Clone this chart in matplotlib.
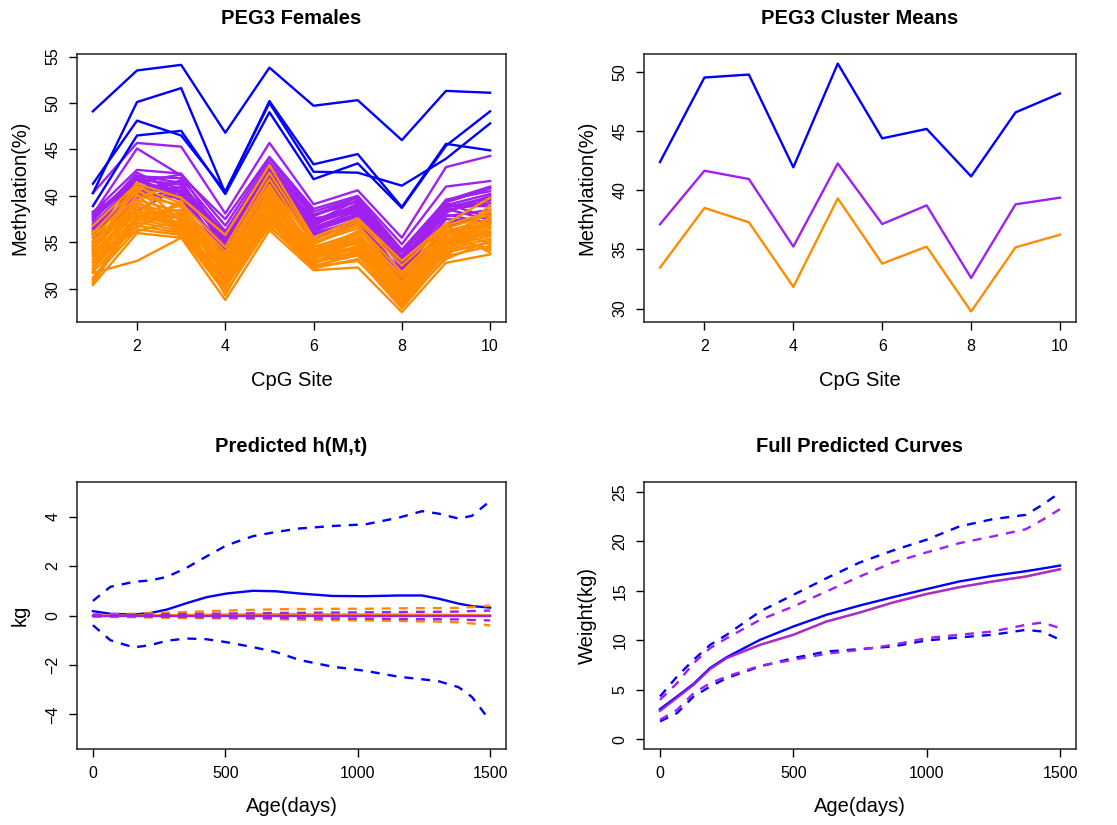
import matplotlib
matplotlib.use("Agg")
import matplotlib.pyplot as plt
import numpy as np

plt.rcParams['font.family'] = ['Liberation Sans', 'DejaVu Sans']

BLUE = "#0000FF"
PURPLE = "#A020F0"
ORANGE = "#FF8C00"

# ---------------- CpG methylation profiles (females) ----------------
cpg_sites = list(range(1, 11))

blue_profiles = [
    [49.1, 53.5, 54.1, 46.8, 53.8, 49.7, 50.3, 46.0, 51.3, 51.1],
    [40.3, 50.1, 51.6, 40.3, 50.2, 43.4, 44.5, 38.8, 45.6, 44.9],
    [41.3, 48.1, 46.5, 40.5, 50.0, 42.6, 42.5, 41.1, 44.0, 47.8],
    [38.9, 46.5, 47.0, 40.2, 49.0, 41.8, 43.5, 38.7, 45.4, 49.1],
]

purple_profiles = [
    [40.3, 45.7, 45.3, 38.1, 45.7, 39.1, 40.6, 35.5, 43.1, 44.3],
    [38.0, 45.1, 42.2, 37.5, 44.2, 38.6, 40.0, 34.8, 41.0, 41.6],
    [38.2, 42.8, 42.4, 36.8, 44.0, 38.3, 39.8, 34.2, 39.5, 41.0],
    [37.8, 42.1, 41.9, 36.2, 43.6, 38.0, 39.5, 33.9, 39.3, 40.8],
    [37.5, 41.8, 41.2, 35.9, 43.2, 37.8, 39.9, 33.5, 39.6, 40.5],
    [36.4, 42.0, 40.8, 35.4, 42.8, 37.4, 39.0, 33.1, 39.0, 40.2],
    [37.0, 41.5, 42.3, 35.0, 42.5, 37.0, 38.6, 32.8, 38.7, 39.9],
    [38.3, 41.2, 40.5, 35.6, 41.9, 37.6, 38.2, 32.4, 38.4, 39.5],
    [36.0, 40.8, 41.5, 34.6, 42.0, 36.8, 39.2, 32.0, 38.2, 40.0],
    [37.3, 42.5, 40.2, 35.2, 41.5, 36.5, 38.0, 32.6, 38.9, 38.9],
    [35.5, 41.0, 40.0, 34.2, 41.0, 36.2, 37.8, 31.5, 37.8, 38.5],
    [34.2, 40.2, 39.8, 33.8, 40.6, 35.8, 37.5, 31.0, 37.0, 38.0],
    [36.8, 38.4, 41.0, 34.8, 42.2, 37.2, 38.8, 32.2, 39.2, 37.6],
    [35.0, 41.8, 39.5, 34.5, 41.2, 36.0, 37.2, 31.8, 37.5, 37.2],
    [36.2, 40.5, 40.9, 35.8, 43.0, 37.9, 39.4, 33.4, 38.0, 37.0],
    [37.6, 41.6, 40.3, 35.1, 41.8, 36.6, 38.4, 32.9, 38.5, 39.2],
    [34.6, 39.8, 40.6, 33.5, 40.9, 35.5, 37.0, 30.6, 36.6, 38.1],
    [38.0, 41.9, 39.9, 36.0, 42.4, 37.3, 38.5, 33.0, 39.4, 40.9],
    [36.6, 40.0, 41.7, 34.0, 41.3, 36.4, 38.1, 31.3, 38.6, 37.4],
    [35.8, 42.2, 41.4, 35.3, 42.6, 37.1, 39.6, 32.5, 38.8, 39.7],
]

orange_profiles = [
    [31.7, 33.0, 35.5, 31.0, 37.5, 33.0, 34.0, 29.0, 34.0, 35.0],
    [36.8, 41.3, 39.8, 35.8, 43.3, 35.5, 37.6, 33.0, 37.0, 39.8],
    [36.0, 41.0, 39.2, 34.5, 42.5, 35.2, 37.3, 32.5, 36.8, 38.3],
    [35.5, 40.5, 38.8, 34.0, 41.8, 34.8, 36.8, 31.8, 36.5, 38.0],
    [35.0, 40.0, 39.0, 33.5, 41.0, 35.0, 36.5, 31.2, 36.2, 37.5],
    [34.6, 39.6, 38.2, 33.0, 40.5, 34.5, 36.0, 30.8, 36.0, 37.2],
    [34.2, 39.2, 37.8, 32.6, 40.0, 34.2, 35.8, 30.5, 35.8, 37.0],
    [33.8, 38.8, 37.5, 32.2, 39.6, 34.0, 35.5, 30.2, 35.5, 36.8],
    [33.5, 38.5, 37.0, 32.0, 39.2, 33.8, 35.2, 29.9, 35.3, 36.5],
    [33.2, 38.2, 37.6, 31.6, 38.8, 33.5, 35.0, 29.6, 35.0, 36.2],
    [32.8, 37.8, 36.8, 31.3, 38.5, 33.3, 34.6, 29.3, 34.8, 36.0],
    [32.5, 37.5, 36.5, 31.0, 38.0, 33.0, 34.4, 29.0, 34.5, 35.7],
    [32.2, 37.2, 36.2, 30.6, 37.6, 32.8, 34.0, 28.7, 34.2, 35.4],
    [31.8, 36.8, 36.0, 30.2, 37.2, 32.5, 33.6, 28.3, 33.9, 35.0],
    [31.2, 36.4, 35.8, 29.6, 36.8, 32.2, 33.2, 27.9, 33.5, 34.6],
    [30.4, 36.0, 35.5, 28.8, 36.3, 32.0, 32.3, 27.5, 32.8, 33.7],
    [35.8, 38.0, 38.5, 33.2, 40.2, 34.0, 36.2, 30.0, 35.6, 34.2],
    [34.0, 41.5, 37.2, 32.8, 39.8, 33.6, 35.4, 29.4, 36.3, 33.9],
    [33.0, 39.5, 36.0, 31.5, 39.0, 34.6, 34.8, 30.6, 34.0, 37.8],
    [36.2, 37.0, 38.0, 32.4, 38.3, 33.2, 36.0, 29.8, 35.2, 34.4],
    [31.0, 38.0, 37.0, 30.8, 40.6, 32.6, 35.6, 28.9, 35.9, 36.0],
    [34.8, 36.6, 39.5, 31.8, 37.0, 34.2, 34.2, 29.2, 34.6, 38.6],
    [32.0, 40.2, 35.6, 30.0, 38.6, 32.4, 33.0, 28.5, 33.2, 35.2],
    [35.2, 39.0, 36.4, 33.8, 41.2, 33.9, 35.9, 31.5, 36.7, 34.8],
    [30.8, 37.4, 38.2, 29.3, 37.9, 32.1, 34.3, 28.0, 34.4, 37.1],
    [33.6, 36.2, 37.4, 32.3, 39.4, 34.9, 37.0, 30.4, 33.6, 36.6],
    [34.4, 40.8, 36.6, 31.2, 36.6, 32.9, 33.8, 29.1, 35.4, 35.8],
    [30.6, 37.6, 39.0, 30.4, 40.8, 33.4, 35.0, 28.6, 34.9, 39.0],
]

# ---------------- Cluster means ----------------
mean_blue = [42.4, 49.55, 49.8, 41.95, 50.73, 44.4, 45.2, 41.18, 46.6, 48.2]
mean_purple = [37.13, 41.66, 40.96, 35.24, 42.28, 37.15, 38.73, 32.59, 38.82, 39.38]
mean_orange = [33.46, 38.51, 37.3, 31.83, 39.32, 33.8, 35.24, 29.75, 35.18, 36.25]

# ---------------- Predicted h(M,t) ----------------
age_h = [0, 66, 154, 217, 279, 354, 429, 505, 605, 692, 780, 905, 1030,
         1156, 1243, 1306, 1381, 1431, 1500]
h_blue = [0.175, 0.07, 0.04, 0.10, 0.24, 0.50, 0.74, 0.89, 1.00, 0.98, 0.89,
          0.79, 0.78, 0.81, 0.81, 0.68, 0.48, 0.38, 0.32]
h_blue_hi = [0.59, 1.16, 1.36, 1.42, 1.56, 1.93, 2.39, 2.84, 3.21, 3.38, 3.52,
             3.62, 3.69, 3.96, 4.22, 4.12, 3.92, 4.03, 4.63]
h_blue_lo = [-0.39, -1.00, -1.29, -1.20, -1.02, -0.93, -0.96, -1.08, -1.28,
             -1.48, -1.80, -2.07, -2.24, -2.48, -2.58, -2.66, -2.90, -3.29, -4.26]
h_orange = [0.0, 0.0, 0.0, 0.01, 0.01, 0.02, 0.03, 0.04, 0.05, 0.05, 0.05,
            0.04, 0.04, 0.04, 0.03, 0.03, 0.02, 0.02, 0.0]
h_orange_hi = [0.05, 0.06, 0.07, 0.09, 0.11, 0.14, 0.17, 0.20, 0.23, 0.25,
               0.26, 0.27, 0.27, 0.29, 0.30, 0.30, 0.31, 0.34, 0.40]
h_orange_lo = [-0.05, -0.06, -0.07, -0.08, -0.09, -0.10, -0.11, -0.12, -0.14,
               -0.15, -0.17, -0.19, -0.20, -0.22, -0.24, -0.25, -0.28, -0.32, -0.40]
h_purple = [0.0] * 19
h_purple_hi = [0.02, 0.03, 0.03, 0.04, 0.05, 0.06, 0.07, 0.08, 0.09, 0.10,
               0.11, 0.12, 0.13, 0.14, 0.15, 0.15, 0.16, 0.18, 0.20]
h_purple_lo = [-0.02, -0.03, -0.03, -0.04, -0.05, -0.06, -0.07, -0.08, -0.09,
               -0.10, -0.11, -0.12, -0.13, -0.14, -0.15, -0.15, -0.16, -0.18, -0.20]

# ---------------- Full predicted growth curves ----------------
age_w = [0, 64, 126, 188, 250, 375, 500, 624, 749, 873, 998, 1122, 1247,
         1372, 1434, 1500]
w_blue = [3.03, 4.31, 5.59, 7.20, 8.28, 10.04, 11.39, 12.57, 13.51, 14.35,
          15.16, 15.94, 16.51, 16.98, 17.25, 17.55]
w_blue_hi = [4.31, 6.33, 8.02, 9.53, 10.55, 12.90, 14.59, 16.27, 17.86, 19.07,
             20.15, 21.50, 22.24, 22.68, 23.69, 24.93]
w_blue_lo = [1.79, 2.63, 4.31, 5.32, 6.17, 7.35, 8.19, 8.86, 9.10, 9.37,
             9.97, 10.28, 10.55, 11.05, 10.88, 10.04]
w_purple = [2.86, 4.20, 5.50, 7.10, 8.20, 9.53, 10.55, 11.89, 12.80, 13.81,
            14.66, 15.36, 15.94, 16.44, 16.80, 17.18]
w_purple_hi = [3.98, 5.66, 7.68, 9.20, 10.21, 12.06, 13.41, 14.93, 16.44,
               17.86, 18.87, 19.81, 20.49, 21.23, 22.17, 23.25]
w_purple_lo = [1.95, 2.96, 4.65, 5.66, 6.33, 7.41, 8.02, 8.63, 9.03, 9.53,
               10.21, 10.55, 10.88, 11.56, 11.79, 11.22]

# ---------------- Figure ----------------
W, H = 1117, 825
fig = plt.figure(figsize=(W / 100, H / 100), dpi=100)


def px_axes(x0, y0, x1, y1):
    return fig.add_axes([x0 / W, 1 - y1 / H, (x1 - x0) / W, (y1 - y0) / H])


ax_tl = px_axes(77, 54, 506, 322)
ax_tr = px_axes(644, 54, 1076, 322)
ax_bl = px_axes(77, 482, 506, 749)
ax_br = px_axes(644, 482, 1076, 749)

LW = 1.7
DASH = (0, (3.8, 3.4))


def style(ax, title, xlabel, ylabel, xticks, yticks, xlim, ylim):
    ax.set_xlim(*xlim)
    ax.set_ylim(*ylim)
    ax.set_xticks(xticks)
    ax.set_yticks(yticks)
    ax.set_xticklabels([str(t) for t in xticks])
    ax.set_yticklabels([("\u2212" + str(-t)) if t < 0 else str(t) for t in yticks],
                       rotation=90, va="center")
    ax.tick_params(axis="both", direction="out", length=6, width=1,
                   labelsize=11.5, pad=6, colors="black")
    for s in ax.spines.values():
        s.set_linewidth(1.1)
        s.set_color("#222222")
    hpx = ax.get_position().height * H
    wpx = ax.get_position().width * W
    ax.set_title(title, fontsize=14.5, fontweight="bold", y=1 + 36 / hpx,
                 va="center", pad=0)
    ax.set_xlabel(xlabel, fontsize=14.5, va="center")
    ax.xaxis.set_label_coords(0.5, -58 / hpx)
    ax.set_ylabel(ylabel, fontsize=14.5, va="center")
    ax.yaxis.set_label_coords(-57 / wpx, 0.5)


# PEG3 Females
for row in purple_profiles:
    ax_tl.plot(cpg_sites, row, color=PURPLE, lw=LW)
for row in orange_profiles:
    ax_tl.plot(cpg_sites, row, color=ORANGE, lw=LW)
for row in blue_profiles:
    ax_tl.plot(cpg_sites, row, color=BLUE, lw=LW)
style(ax_tl, "PEG3 Females", "CpG Site", "Methylation(%)",
      [2, 4, 6, 8, 10], [30, 35, 40, 45, 50, 55], (0.64, 10.36), (26.43, 55.27))

# PEG3 Cluster Means
ax_tr.plot(cpg_sites, mean_blue, color=BLUE, lw=LW)
ax_tr.plot(cpg_sites, mean_purple, color=PURPLE, lw=LW)
ax_tr.plot(cpg_sites, mean_orange, color=ORANGE, lw=LW)
style(ax_tr, "PEG3 Cluster Means", "CpG Site", "Methylation(%)",
      [2, 4, 6, 8, 10], [30, 35, 40, 45, 50], (0.64, 10.36), (28.86, 51.54))

# Predicted h(M,t)
ax_bl.plot(age_h, h_blue, color=BLUE, lw=LW)
ax_bl.plot(age_h, h_blue_hi, color=BLUE, lw=LW, ls=DASH)
ax_bl.plot(age_h, h_blue_lo, color=BLUE, lw=LW, ls=DASH)
ax_bl.plot(age_h, h_orange, color=ORANGE, lw=LW)
ax_bl.plot(age_h, h_orange_hi, color=ORANGE, lw=LW, ls=DASH)
ax_bl.plot(age_h, h_orange_lo, color=ORANGE, lw=LW, ls=DASH)
ax_bl.plot(age_h, h_purple, color=PURPLE, lw=LW)
ax_bl.plot(age_h, h_purple_hi, color=PURPLE, lw=LW, ls=DASH)
ax_bl.plot(age_h, h_purple_lo, color=PURPLE, lw=LW, ls=DASH)
style(ax_bl, "Predicted h(M,t)", "Age(days)", "kg",
      [0, 500, 1000, 1500], [-4, -2, 0, 2, 4], (-60, 1560), (-5.4, 5.4))

# Full Predicted Curves
ax_br.plot(age_w, w_purple, color=ORANGE, lw=LW)
ax_br.plot(age_w, w_blue, color=BLUE, lw=LW)
ax_br.plot(age_w, w_blue_hi, color=BLUE, lw=LW, ls=DASH)
ax_br.plot(age_w, w_blue_lo, color=BLUE, lw=LW, ls=DASH)
ax_br.plot(age_w, w_purple, color=PURPLE, lw=LW, alpha=0.9)
ax_br.plot(age_w, w_purple_hi, color=PURPLE, lw=LW, ls=DASH)
ax_br.plot(age_w, w_purple_lo, color=PURPLE, lw=LW, ls=DASH)
style(ax_br, "Full Predicted Curves", "Age(days)", "Weight(kg)",
      [0, 500, 1000, 1500], [0, 5, 10, 15, 20, 25], (-60, 1560), (-1.0, 26.0))

fig.savefig("out.png", dpi=100, facecolor="white")
